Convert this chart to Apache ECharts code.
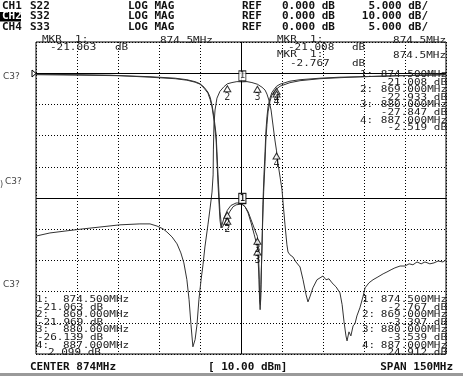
<!DOCTYPE html>
<html>
<head>
<meta charset="utf-8">
<script src="https://cdn.jsdelivr.net/npm/echarts@6/dist/echarts.min.js"></script>
<style>
  html, body { margin: 0; padding: 0; background: #fff; }
  #chart { width: 463px; height: 376px; }
</style>
</head>
<body>
<div id="chart"></div>
<script>
  // sweep: center 874 MHz, span 150 MHz
  const freqMin = 799
  const freqMax = 949
  const freqStep = 15

  // CH1 S22 (5 dB/div)
  const freqS22 = [799, 815.1, 826.1, 840.7, 849.9, 854.2, 857.2, 859.0, 860.5, 861.9, 862.7, 863.4, 864.1, 864.9, 865.2, 865.6, 866.0, 866.3, 866.7, 867.0, 867.8, 869.0, 870.3, 872.2, 873.6, 874.5, 875.5, 876.6, 877.7, 878.8, 879.5, 880.0, 880.2, 880.6, 880.8, 881.1, 881.3, 881.7, 882.0, 882.4, 882.8, 883.1, 883.5, 883.9, 884.6, 885.3, 886.1, 887.0, 888.3, 891.9, 895.6, 902.9, 910.2, 918.6, 932.2, 949.0]
  const dbS22 = [-0.16, -0.24, -0.32, -0.64, -0.88, -1.12, -1.44, -1.76, -2.4, -3.2, -4.2, -5.4, -7.5, -10.7, -13.9, -17.9, -21.1, -23.5, -24.8, -24.5, -23.2, -21.97, -21.2, -20.8, -20.8, -21.06, -21.4, -22.2, -23.5, -24.8, -25.6, -26.14, -27.5, -31.5, -36.3, -37.1, -33.9, -27.5, -21.1, -16.3, -12.6, -9.4, -7.0, -5.4, -4.0, -3.1, -2.6, -2.1, -1.76, -1.28, -1.04, -0.8, -0.64, -0.56, -0.4, -0.24]

  // CH4 S33 (5 dB/div)
  const freqS33 = [799, 815.1, 829.7, 840.7, 849.9, 854.2, 857.2, 859.0, 860.5, 861.9, 862.7, 863.4, 864.1, 864.9, 865.2, 865.6, 866.0, 866.3, 866.7, 867.0, 867.4, 868.1, 869.0, 870.0, 871.1, 872.2, 873.6, 874.5, 875.5, 876.6, 877.7, 878.8, 879.5, 880.0, 880.2, 880.6, 880.8, 881.0, 881.2, 881.5, 881.9, 882.3, 882.8, 883.1, 883.5, 883.9, 884.6, 885.3, 886.1, 887.0, 888.3, 891.9, 895.6, 902.9, 910.2, 918.6, 932.2, 949.0]
  const dbS33 = [-0.24, -0.32, -0.4, -0.56, -0.8, -1.04, -1.36, -1.68, -2.24, -3.04, -3.84, -5.1, -7.0, -9.9, -12.6, -16.3, -19.7, -22.2, -23.8, -24.8, -25.0, -24.0, -22.93, -22.1, -21.4, -21.1, -21.0, -21.01, -21.4, -22.4, -24.0, -25.8, -27.0, -27.85, -29.3, -33.1, -36.3, -37.9, -36.3, -30.7, -24.3, -19.0, -14.2, -10.7, -8.2, -6.2, -4.5, -3.5, -2.96, -2.52, -2.08, -1.52, -1.2, -0.88, -0.72, -0.56, -0.4, -0.24]

  // CH2 S32 (10 dB/div)
  const freqS32 = [799.0, 804.1, 809.6, 816.2, 822.4, 829.7, 837.0, 840.7, 843.3, 845.5, 846.9, 848.8, 850.6, 852.0, 853.1, 854.2, 855.0, 855.7, 856.4, 857.2, 857.9, 858.6, 859.4, 860.1, 860.8, 861.9, 862.7, 863.4, 863.8, 863.9, 864.1, 864.5, 865.2, 866.3, 867.8, 869.0, 870.7, 872.5, 874.5, 876.2, 878.0, 880.0, 881.7, 882.8, 883.5, 884.2, 885.0, 885.7, 886.4, 887.0, 887.5, 888.3, 889.0, 889.4, 890.1, 890.8, 891.2, 891.9, 893.0, 894.1, 895.6, 896.7, 897.8, 898.5, 899.2, 900.3, 901.8, 902.9, 904.0, 905.1, 906.2, 907.3, 908.8, 910.2, 911.0, 911.7, 912.4, 912.8, 913.5, 914.2, 915.0, 915.7, 916.4, 917.5, 918.6, 919.4, 920.8, 922.3, 924.1, 926.0, 927.4, 928.9, 930.3, 932.2, 934.0, 935.5, 936.9, 938.4, 939.9, 941.3, 943.1, 944.6, 946.1, 947.9, 949.0]
  const dbS32 = [-52.2, -51.2, -50.6, -49.9, -49.3, -48.6, -48.3, -48.3, -49.0, -49.9, -50.9, -52.5, -54.7, -57.6, -60.8, -66.2, -72.6, -80.6, -87.7, -85.4, -80.6, -72.6, -66.2, -61.4, -55.7, -48.6, -43.2, -38.1, -32.6, -24.6, -16.6, -11.8, -8.0, -5.8, -4.3, -3.4, -3.0, -2.7, -2.77, -2.7, -3.0, -3.54, -4.5, -5.4, -6.7, -8.6, -11.8, -16.6, -21.4, -24.9, -28.8, -33.3, -37.4, -41.6, -48.6, -55.0, -57.3, -58.2, -58.9, -60.5, -62.1, -66.2, -71.0, -73.3, -71.7, -68.8, -66.2, -65.6, -65.0, -66.2, -65.9, -67.2, -68.5, -70.4, -74.2, -79.7, -84.2, -85.8, -82.9, -84.2, -81.0, -80.3, -77.8, -75.2, -71.7, -68.8, -67.2, -66.2, -65.3, -64.3, -63.7, -63.0, -62.4, -61.8, -61.8, -61.1, -61.4, -60.5, -61.1, -60.5, -61.1, -60.8, -60.2, -60.5, -59.8]

  // marker readouts
  const mkrNames = ['1', '2', '3', '4']
  const mkrFreq = [874.5, 869.0, 880.0, 887.0]
  const mkrS22 = [-21.063, -21.969, -26.139, -2.099]
  const mkrS33 = [-21.008, -22.933, -27.847, -2.519]
  const mkrS32 = [-2.767, -3.397, -3.539, -24.912]

  const mono = '"DejaVu Sans Mono", "Liberation Mono", monospace'
  const ink = '#333'

  const pairs = (xs, ys) => xs.map((x, i) => [x, ys[i]])

  // 三角形/方框标记
  const markerSeries = (vals, yIndex) => [
    {
      type: 'scatter',
      yAxisIndex: yIndex,
      symbol: 'rect',
      symbolSize: [7, 10],
      symbolOffset: [0, -6],
      itemStyle: { color: '#fff', borderColor: '#000', borderWidth: 1 },
      label: { show: true, position: 'inside', formatter: (p) => p.name, fontSize: 9, fontFamily: mono, color: '#000' },
      data: [{ name: mkrNames[0], value: [mkrFreq[0], vals[0]] }],
      z: 5,
      silent: true
    },
    {
      type: 'scatter',
      yAxisIndex: yIndex,
      symbol: 'triangle',
      symbolSize: [7, 6],
      symbolOffset: [0, 5],
      itemStyle: { color: '#fff', borderColor: '#000', borderWidth: 1 },
      label: { show: true, position: 'bottom', distance: 0, formatter: (p) => p.name, fontSize: 10, fontFamily: mono, color: '#000' },
      data: mkrNames.slice(1).map((n, i) => ({ name: n, value: [mkrFreq[i + 1], vals[i + 1]] })),
      z: 5,
      silent: true
    }
  ]

  const trace = (name, data, yIndex, extra) => Object.assign({
    name,
    type: 'line',
    yAxisIndex: yIndex,
    data,
    showSymbol: false,
    symbol: 'none',
    lineStyle: { color: ink, width: 1 },
    z: 3,
    silent: true
  }, extra || {})

  // 文本
  const texts = []
  const txt = (x, y, s, opts) => {
    const o = opts || {}
    texts.push({
      type: 'text',
      x, y,
      scaleY: o.sy || 1,
      z: 100,
      silent: true,
      style: {
        text: s,
        font: o.font || '11px ' + mono,
        fill: o.fill || '#222',
        textAlign: o.align || 'left',
        textVerticalAlign: 'middle',
        align: o.align || 'left',
        verticalAlign: 'middle'
      }
    })
  }
  const bold = 'bold 11px ' + mono
  const small = { sy: 0.72 }
  const smallR = { sy: 0.72, align: 'right' }

  // header
  const hdrY = [6, 16.5, 27]
  const hdrCh = ['CH1', 'CH2', 'CH4']
  const hdrParam = ['S22', 'S32', 'S33']
  const hdrScale = ['5.000 dB/', '10.000 dB/', '5.000 dB/']
  texts.push({ type: 'rect', shape: { x: 0, y: 12, width: 21, height: 9.5 }, style: { fill: '#000' }, z: 99, silent: true })
  hdrY.forEach((y, i) => {
    txt(2, y, hdrCh[i], { font: bold, fill: i === 1 ? '#fff' : '#111' })
    txt(30, y, hdrParam[i], { font: bold, fill: '#111' })
    txt(128, y, 'LOG MAG', { font: bold, fill: '#111' })
    txt(242, y, 'REF', { font: bold, fill: '#111' })
    txt(282, y, '0.000 dB', { font: bold, fill: '#111' })
    txt(428, y, hdrScale[i], { font: bold, fill: '#111', align: 'right' })
  })

  // active marker readouts
  txt(42, 40, 'MKR  1:', small)
  txt(50, 47.5, '-21.063', small)
  txt(115, 47.5, 'dB', small)
  txt(160, 41, '874.5MHz', small)
  txt(277, 40, 'MKR  1:', small)
  txt(288, 47.5, '-21.008', small)
  txt(352, 47.5, 'dB', small)
  txt(446, 41, '874.5MHz', smallR)
  txt(277, 55, 'MKR  1:', small)
  txt(446, 56, '874.5MHz', smallR)
  txt(290, 64, '-2.767', small)
  txt(352, 64, 'dB', small)

  // marker lists
  const fmtF = (f) => f.toFixed(3) + 'MHz'
  const fmtD = (d) => d.toFixed(3) + ' dB'
  const listRows = [0, 1, 2, 3]
  listRows.forEach((i) => {
    const yTop = 75 + i * 15.2
    txt(360, yTop, mkrNames[i] + ':', small)
    txt(447, yTop, fmtF(mkrFreq[i]), smallR)
    txt(447, yTop + 7.6, fmtD(mkrS33[i]), smallR)

    const yB = 300 + i * 15.2
    txt(36, yB, mkrNames[i] + ':', small)
    txt(63, yB, fmtF(mkrFreq[i]), small)
    txt(i === 3 ? 48 : 37, yB + 7.6, i === 3 ? fmtD(-mkrS22[i]) : fmtD(mkrS22[i]), small)

    txt(362, yB, mkrNames[i] + ':', small)
    txt(447, yB, fmtF(mkrFreq[i]), smallR)
    txt(447, yB + 7.6, i === 3 ? fmtD(-mkrS32[i]) : fmtD(mkrS32[i]), smallR)
  })

  // footer
  txt(30, 367, 'CENTER 874MHz', { font: bold, fill: '#111' })
  txt(208, 367, '[ 10.00 dBm]', { font: bold, fill: '#111' })
  txt(453, 367, 'SPAN 150MHz', { font: bold, fill: '#111', align: 'right' })
  texts.push({ type: 'rect', shape: { x: 0, y: 373, width: 463, height: 3 }, style: { fill: '#9a9a9a' }, z: 99, silent: true })

  // left labels
  txt(3, 77, 'C3?', { font: '9px "DejaVu Sans"', fill: '#444' })
  txt(5, 182, 'C3?', { font: '9px "DejaVu Sans"', fill: '#444' })
  txt(0, 185, ')', { font: '8px "DejaVu Sans"', fill: '#444' })
  txt(3, 285, 'C3?', { font: '9px "DejaVu Sans"', fill: '#444' })
  texts.push({ type: 'polygon', shape: { points: [[32, 70], [36, 73.5], [32, 77]] }, style: { fill: '#fff', stroke: '#000', lineWidth: 1 }, z: 99, silent: true })

  const chartDom = echarts.init(document.getElementById('chart'))
  chartDom.setOption({
    animation: false,
    backgroundColor: '#fff',
    grid: { left: 36, right: 17, top: 42, bottom: 22, show: true, borderColor: '#000', borderWidth: 1, backgroundColor: '#fff' },
    xAxis: {
      type: 'value',
      min: freqMin,
      max: freqMax,
      interval: freqStep,
      axisLine: { show: false },
      axisTick: { show: false },
      axisLabel: { show: false },
      splitLine: { show: true, lineStyle: { color: '#000', width: 1, type: [1, 2] } }
    },
    yAxis: [
      {
        type: 'value',
        min: -45,
        max: 5,
        interval: 5,
        axisLine: { show: false },
        axisTick: { show: false },
        axisLabel: { show: false },
        splitLine: { show: true, lineStyle: { color: '#000', width: 1, type: [1, 2] } }
      },
      {
        type: 'value',
        min: -90,
        max: 10,
        interval: 10,
        axisLine: { show: false },
        axisTick: { show: false },
        axisLabel: { show: false },
        splitLine: { show: false }
      }
    ],
    series: [
      trace('S22', pairs(freqS22, dbS22), 0, {
        markLine: {
          silent: true,
          symbol: 'none',
          label: { show: false },
          lineStyle: { color: '#000', width: 1, type: 'solid' },
          data: [{ xAxis: 874 }, { yAxis: 0 }, { yAxis: -20 }]
        }
      }),
      trace('S33', pairs(freqS33, dbS33), 0),
      trace('S32', pairs(freqS32, dbS32), 1),
      ...markerSeries(mkrS22, 0),
      ...markerSeries(mkrS33, 0),
      ...markerSeries(mkrS32, 1)
    ],
    graphic: texts
  })
</script>
</body>
</html>
